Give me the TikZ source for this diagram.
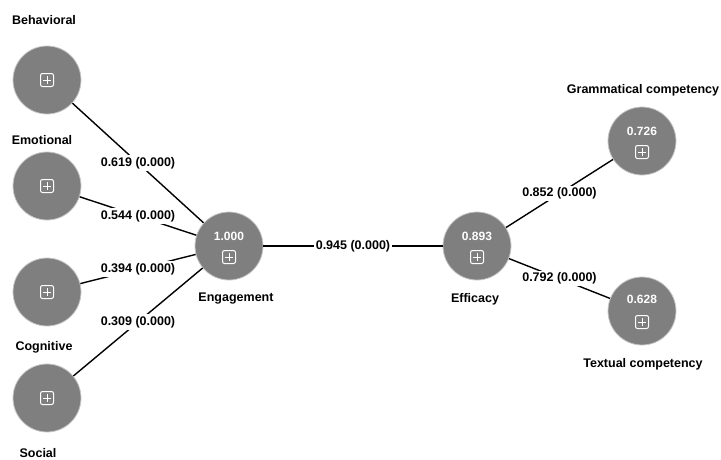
\documentclass[tikz,border=0pt]{standalone}
\usepackage{fontspec}
\setmainfont{Liberation Sans}
\begin{document}
\begin{tikzpicture}[x=1pt,y=-1pt,
  font=\fontsize{12.5}{15}\selectfont\bfseries,
  lv/.style={circle,fill=circgray,draw=gray!45,line width=0.8pt,minimum size=68pt,inner sep=0pt},
  iconbox/.style={rectangle,draw=white,rounded corners=2pt,line width=1pt,minimum size=13pt,inner sep=0pt,
    path picture={\draw[white,line width=1pt]
      ([yshift=-2.5pt]path picture bounding box.north) -- ([yshift=2.5pt]path picture bounding box.south)
      ([xshift=2.5pt]path picture bounding box.west) -- ([xshift=-2.5pt]path picture bounding box.east);}},
  rsq/.style={text=white,font=\fontsize{12}{14}\selectfont\bfseries,inner sep=0pt},
  lvname/.style={text=black,inner sep=1pt},
  pathline/.style={draw=black,line width=1.4pt},
  coef/.style={fill=white,inner sep=2pt,text=black}]
\definecolor{circgray}{HTML}{7F7F7F}
\useasboundingbox (0,0) rectangle (721,459);
% latent variables
\node[lv] (beh) at (47,80) {};
\node[lv] (emo) at (47,186) {};
\node[lv] (cog) at (47,292) {};
\node[lv] (soc) at (47,398) {};
\node[lv] (eng) at (229,246) {};
\node[lv] (eff) at (477,246) {};
\node[lv] (gra) at (642,141) {};
\node[lv] (tex) at (642,311) {};
% icons
\node[iconbox] (ibeh) at (47,80) {};
\node[iconbox] (iemo) at (47,186) {};
\node[iconbox] (icog) at (47,292) {};
\node[iconbox] (isoc) at (47,398) {};
\node[iconbox] (ieng) at (229,257) {};
\node[iconbox] (ieff) at (477,257) {};
\node[iconbox] (igra) at (642,152) {};
\node[iconbox] (itex) at (642,322) {};
% R squared
\node[rsq] (reng) at (229,236) {1.000};
\node[rsq] (reff) at (477,236) {0.893};
\node[rsq] (rgra) at (642,131) {0.726};
\node[rsq] (rtex) at (642,299) {0.628};
% names
\node[lvname] (nbeh) at (44,20) {Behavioral};
\node[lvname] (nemo) at (42,140) {Emotional};
\node[lvname] (ncog) at (44,347) {Cognitive};
\node[lvname] (nsoc) at (38,453) {Social};
\node[lvname] (neng) at (236,299) {Engagement};
\node[lvname] (neff) at (475,299) {Efficacy};
\node[lvname] (ngra) at (643,90) {Grammatical competency};
\node[lvname] (ntex) at (643,364) {Textual competency};
% paths
\draw[pathline] (beh) -- node[coef] (c1) {0.619 (0.000)} (eng);
\draw[pathline] (emo) -- node[coef] (c2) {0.544 (0.000)} (eng);
\draw[pathline] (cog) -- node[coef] (c3) {0.394 (0.000)} (eng);
\draw[pathline] (soc) -- node[coef] (c4) {0.309 (0.000)} (eng);
\draw[pathline] (eng) -- node[coef] (c5) {0.945 (0.000)} (eff);
\draw[pathline] (eff) -- node[coef] (c6) {0.852 (0.000)} (gra);
\draw[pathline] (eff) -- node[coef] (c7) {0.792 (0.000)} (tex);
\end{tikzpicture}
\end{document}
